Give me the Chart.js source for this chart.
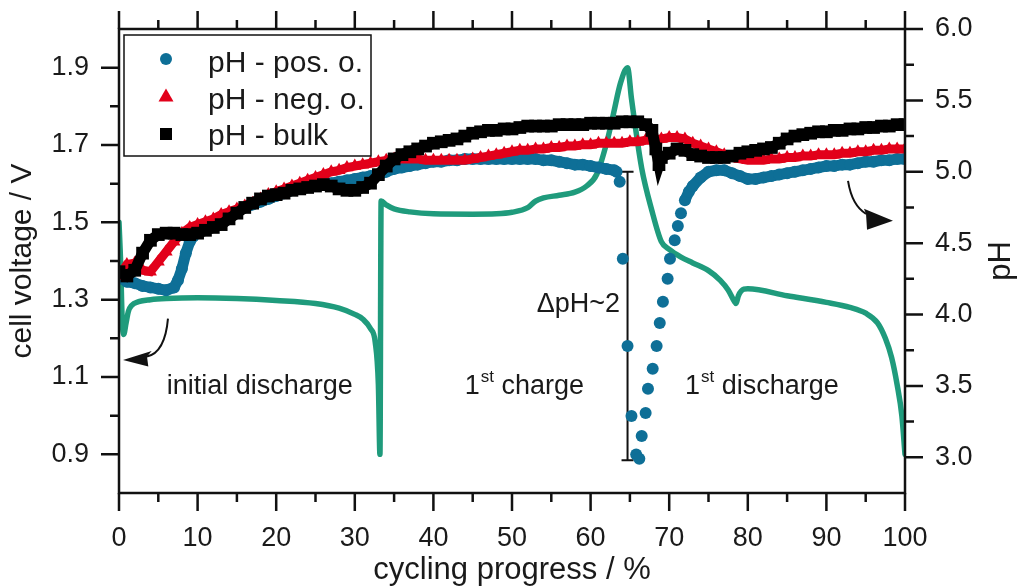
<!DOCTYPE html>
<html><head><meta charset="utf-8">
<script src="https://cdn.jsdelivr.net/npm/chart.js@4.4.0/dist/chart.umd.min.js"></script>
<style>html,body{margin:0;padding:0;background:#fff}#wrap{width:1017px;height:586px;position:relative}</style>
</head><body><div id="wrap"><canvas id="c"></canvas></div>
<script>
// ---------- data ----------
const voltX = [0,0.2,0.4,0.6,0.9,1.2,1.6,2.5,4,6,10,15,20,25,28,30,31,32,32.6,33.0,33.2,33.35,34,35,37,40,45,48,50,52,53,54,56,58,59.5,60.8,62.1,62.9,63.8,64.7,65.2,65.6,66.5,67.8,69,70,71.5,73,75,76.5,77.5,78.3,78.5,78.8,79.5,80,85,90,93,95,96.5,97.5,98.3,99,99.6,100];
const voltV = [1.50,1.40,1.25,1.21,1.24,1.27,1.285,1.295,1.300,1.303,1.305,1.303,1.298,1.29,1.278,1.262,1.250,1.225,1.19,1.08,0.90,1.555,1.545,1.535,1.527,1.522,1.521,1.522,1.526,1.538,1.555,1.563,1.570,1.578,1.594,1.625,1.71,1.78,1.86,1.90,1.82,1.76,1.64,1.53,1.45,1.43,1.41,1.395,1.375,1.35,1.325,1.295,1.29,1.31,1.327,1.328,1.310,1.293,1.280,1.265,1.24,1.20,1.15,1.08,1.00,0.90];

const posX  = [0,0.5,1,2,3,4,5,6,7,7.5,8,8.5,9,9.5,10,11,12,13,14,15,16,17,18,19,20,21,22,23,24,25,26,27,28,29,30,31,32,33,34,35,36,37,38,39,40,41,42,43,44,45,46,47,48,49,50,51,52,53,54,55,56,57,58,59,60,61,62,63,63.3,63.7,64.1,64.7,65.2,65.8,66.2,66.5,67.0,67.3,67.9,68.4,68.8,69.2,69.8,70.1,70.7,71.1,71.5,72.0,72.5,73,74,75,76,77,78,79,80,81,82,83,84,85,86,87,88,89,90,91,92,93,94,95,96,97,98,99,100];
const posPH = [4.27,4.25,4.23,4.22,4.20,4.19,4.18,4.17,4.19,4.24,4.32,4.43,4.51,4.55,4.58,4.62,4.65,4.68,4.70,4.72,4.75,4.77,4.79,4.81,4.83,4.85,4.87,4.89,4.90,4.91,4.92,4.92,4.93,4.94,4.95,4.96,4.97,4.98,5.00,5.02,5.03,5.04,5.05,5.06,5.07,5.07,5.08,5.08,5.09,5.09,5.09,5.09,5.09,5.09,5.09,5.09,5.09,5.09,5.08,5.08,5.07,5.06,5.05,5.05,5.04,5.03,5.02,5.01,5.00,4.93,4.39,3.78,3.29,3.02,2.99,3.15,3.31,3.48,3.62,3.78,3.94,4.09,4.25,4.39,4.52,4.62,4.71,4.80,4.86,4.90,4.96,5.00,5.01,5.01,4.99,4.97,4.95,4.95,4.96,4.97,4.98,4.99,5.00,5.01,5.02,5.03,5.04,5.04,5.05,5.05,5.06,5.07,5.07,5.08,5.08,5.09,5.09];

const negX  = [0,1,2,3,4,5,6,7,8,9,10,11,12,13,14,15,16,17,18,19,20,21,22,23,24,25,26,27,28,29,30,31,32,33,34,35,36,37,38,39,40,41,42,43,44,45,46,47,48,49,50,51,52,53,54,55,56,57,58,59,60,61,62,63,64,65,66,67,68,69,70,71,72,73,74,75,76,77,78,79,80,81,82,83,84,85,86,87,88,89,90,91,92,93,94,95,96,97,98,99,100];
const negPH = [4.27,4.35,4.36,4.31,4.30,4.37,4.44,4.51,4.57,4.61,4.63,4.65,4.67,4.70,4.72,4.74,4.76,4.78,4.81,4.84,4.86,4.88,4.90,4.92,4.94,4.96,4.98,5.00,5.01,5.03,5.04,5.05,5.06,5.07,5.08,5.09,5.09,5.09,5.09,5.08,5.08,5.08,5.08,5.08,5.08,5.09,5.10,5.11,5.12,5.13,5.14,5.15,5.15,5.16,5.16,5.17,5.17,5.18,5.18,5.19,5.19,5.20,5.20,5.20,5.20,5.21,5.21,5.22,5.22,5.23,5.24,5.24,5.23,5.20,5.18,5.16,5.14,5.12,5.10,5.09,5.08,5.08,5.08,5.09,5.09,5.10,5.10,5.11,5.11,5.12,5.12,5.12,5.13,5.13,5.14,5.14,5.15,5.15,5.16,5.16,5.16];

const bulkX  = [0,1,2,3,4,5,6,7,8,9,10,11,12,13,14,15,16,17,18,19,20,21,22,23,24,25,26,27,28,29,30,31,32,33,34,35,36,37,38,39,40,41,42,43,44,45,46,47,48,49,50,51,52,53,54,55,56,57,58,59,60,61,62,63,64,65,66,67,67.8,68.3,68.7,69,70,71,72,73,74,75,76,77,78,79,80,81,82,83,84,85,86,87,88,89,90,91,92,93,94,95,96,97,98,99,100];
const bulkPH = [4.30,4.27,4.31,4.43,4.52,4.56,4.57,4.57,4.56,4.56,4.57,4.59,4.61,4.63,4.67,4.71,4.75,4.78,4.81,4.83,4.84,4.85,4.87,4.88,4.89,4.90,4.91,4.90,4.88,4.87,4.87,4.89,4.92,4.98,5.04,5.09,5.12,5.14,5.16,5.18,5.20,5.21,5.22,5.23,5.25,5.27,5.28,5.29,5.29,5.30,5.30,5.31,5.32,5.32,5.32,5.32,5.33,5.33,5.33,5.33,5.34,5.34,5.34,5.34,5.35,5.35,5.35,5.33,5.29,5.16,5.05,5.10,5.13,5.16,5.15,5.12,5.11,5.10,5.10,5.10,5.11,5.13,5.14,5.15,5.16,5.17,5.20,5.23,5.25,5.26,5.27,5.28,5.28,5.29,5.29,5.30,5.30,5.31,5.31,5.32,5.32,5.33,5.33];

const xTicks = [0,10,20,30,40,50,60,70,80,90,100];
const xMinorTicks = [5,15,25,35,45,55,65,75,85,95];
const vTicks = [0.9,1.1,1.3,1.5,1.7,1.9];
const vMinorTicks = [1.0,1.2,1.4,1.6,1.8];
const phTicks = [3.0,3.5,4.0,4.5,5.0,5.5,6.0];
const phMinorTicks = [3.25,3.75,4.25,4.75,5.25,5.75];
const seriesLabels = ['pH - pos. o.','pH - neg. o.','pH - bulk'];

// ---------- styling ----------
const FONT = '"Liberation Sans", Arial, sans-serif';
const TXT = '#1a1a1a';
const TEAL = '#1f9b7c', BLUE = '#0e6f97', RED = '#e2001a', BLACK = '#000000';

const pts = (xs, ys) => xs.map((x, i) => ({x, y: ys[i]}));

const deco = {
  id: 'deco',
  beforeDatasetsDraw(chart) {
    const {ctx} = chart, x = chart.scales.x, y2 = chart.scales.y2;
    const px = x.getPixelForValue(64.7), t = y2.getPixelForValue(5.0), b = y2.getPixelForValue(2.98);
    ctx.save(); ctx.strokeStyle = '#111'; ctx.lineWidth = 2;
    ctx.beginPath();
    ctx.moveTo(px, t); ctx.lineTo(px, b);
    ctx.moveTo(px - 6, t); ctx.lineTo(px + 6, t);
    ctx.moveTo(px - 6, b); ctx.lineTo(px + 6, b);
    ctx.stroke(); ctx.restore();
  },
  afterDraw(chart) {
    const {ctx, chartArea: a} = chart, x = chart.scales.x, y = chart.scales.y, y2 = chart.scales.y2;
    ctx.save();
    // frame
    ctx.strokeStyle = '#111'; ctx.lineWidth = 2.5;
    ctx.strokeRect(a.left, a.top, a.right - a.left, a.bottom - a.top);
    // ticks
    const MAJ = 18, MIN = 9;
    ctx.beginPath();
    const hx = (v, L) => { const p = x.getPixelForValue(v); ctx.moveTo(p, a.bottom); ctx.lineTo(p, a.bottom + L); ctx.moveTo(p, a.top); ctx.lineTo(p, a.top - L); };
    xTicks.forEach(v => hx(v, MAJ)); xMinorTicks.forEach(v => hx(v, MIN));
    const hl = (v, L) => { const p = y.getPixelForValue(v); ctx.moveTo(a.left, p); ctx.lineTo(a.left - L, p); };
    vTicks.forEach(v => hl(v, MAJ)); vMinorTicks.forEach(v => hl(v, MIN));
    const hr = (v, L) => { const p = y2.getPixelForValue(v); ctx.moveTo(a.right, p); ctx.lineTo(a.right + L, p); };
    phTicks.forEach(v => hr(v, MAJ)); phMinorTicks.forEach(v => hr(v, MIN));
    ctx.stroke();

    // right axis title (reads bottom to top)
    ctx.fillStyle = TXT;
    ctx.font = '31px ' + FONT;
    ctx.save(); ctx.translate(1010, (a.top + a.bottom) / 2); ctx.rotate(-Math.PI / 2);
    ctx.textAlign = 'center'; ctx.textBaseline = 'alphabetic'; ctx.fillText('pH', 0, 0); ctx.restore();

    // legend
    const lx = a.left + 5, ly = a.top + 6, lw = 247, lh = 121;
    ctx.fillStyle = '#fff'; ctx.fillRect(lx, ly, lw, lh);
    ctx.strokeStyle = '#111'; ctx.lineWidth = 1.5; ctx.strokeRect(lx, ly, lw, lh);
    ctx.font = '30px ' + FONT; ctx.textAlign = 'left'; ctx.textBaseline = 'alphabetic';
    const mx = a.left + 47, tx = a.left + 89;
    const base = [a.top + 43, a.top + 79.5, a.top + 116];
    ctx.fillStyle = BLUE; ctx.beginPath(); ctx.arc(mx, base[0] - 13, 6, 0, Math.PI * 2); ctx.fill();
    ctx.fillStyle = RED; ctx.beginPath();
    const ty = base[1] - 12; ctx.moveTo(mx, ty - 8); ctx.lineTo(mx + 7.5, ty + 5); ctx.lineTo(mx - 7.5, ty + 5); ctx.closePath(); ctx.fill();
    ctx.fillStyle = BLACK; ctx.fillRect(mx - 6, base[2] - 11 - 6, 12, 12);
    ctx.fillStyle = TXT;
    seriesLabels.forEach((s, i) => ctx.fillText(s, tx, base[i]));

    // annotations
    const AF = '27px ' + FONT;
    ctx.font = AF;
    const baseY = y.getPixelForValue(1.055);
    ctx.textAlign = 'center';
    ctx.fillText('initial discharge', x.getPixelForValue(17.9), baseY);
    const sup = (sx, rest) => {
      ctx.textAlign = 'left';
      ctx.font = AF; ctx.fillText('1', sx, baseY);
      let w = ctx.measureText('1').width;
      ctx.font = '17px ' + FONT; ctx.fillText('st', sx + w + 1, baseY - 12);
      w += ctx.measureText('st').width + 1;
      ctx.font = AF; ctx.fillText(rest, sx + w, baseY);
    };
    sup(x.getPixelForValue(44.0), ' charge');
    sup(x.getPixelForValue(72.0), ' discharge');
    ctx.textAlign = 'right'; ctx.font = AF;
    ctx.fillText('\u0394pH~2', x.getPixelForValue(63.75), y.getPixelForValue(1.267));

    // curved arrows
    const P = (p, v) => [x.getPixelForValue(p), y.getPixelForValue(v)];
    const arrow = (s, c, e, tip, b1, b2) => {
      ctx.strokeStyle = '#111'; ctx.lineWidth = 2; ctx.fillStyle = '#111';
      ctx.beginPath(); ctx.moveTo(...P(...s)); ctx.quadraticCurveTo(...P(...c), ...P(...e)); ctx.stroke();
      ctx.beginPath(); ctx.moveTo(...P(...tip)); ctx.lineTo(...P(...b1)); ctx.lineTo(...P(...e)); ctx.lineTo(...P(...b2)); ctx.closePath(); ctx.fill();
    };
    arrow([6.23,1.251],[5.85,1.163],[3.56,1.153],[0.51,1.144],[4.16,1.167],[3.73,1.127]);
    arrow([92.75,1.607],[93.26,1.543],[95.04,1.522],[98.47,1.504],[94.78,1.535],[95.17,1.481]);
    ctx.restore();
  }
};

const fixTicks = arr => (s => { s.ticks = arr.map(v => ({value: v})); });
const tickFont = {family: FONT, size: 27};

new Chart(document.getElementById('c'), {
  type: 'scatter',
  data: {
    datasets: [
      {label: seriesLabels[2], data: pts(bulkX, bulkPH), yAxisID: 'y2', showLine: true,
       borderColor: BLACK, backgroundColor: BLACK, borderWidth: 11, pointStyle: 'rect', pointRadius: 9, pointBorderWidth: 0, order: 1},
      {label: seriesLabels[1], data: pts(negX, negPH), yAxisID: 'y2', showLine: true,
       borderColor: RED, backgroundColor: RED, borderWidth: 9, pointStyle: 'triangle', pointRadius: 7.5, pointBorderWidth: 0, order: 2},
      {label: seriesLabels[0], data: pts(posX, posPH), yAxisID: 'y2', showLine: true,
       borderColor: BLUE, backgroundColor: BLUE, borderWidth: 11, pointStyle: 'circle', pointRadius: 6, pointBorderWidth: 0, order: 3,
       segment: {borderColor: c => (c.p0.parsed.x >= 63.2 && c.p1.parsed.x <= 72.1) ? 'rgba(0,0,0,0)' : BLUE}},
      {label: 'cell voltage', data: pts(voltX, voltV), yAxisID: 'y', showLine: true,
       borderColor: TEAL, backgroundColor: TEAL, borderWidth: 5.5, pointRadius: 0, order: 4,
       cubicInterpolationMode: 'monotone', borderJoinStyle: 'round', borderCapStyle: 'round'}
    ]
  },
  options: {
    responsive: true, maintainAspectRatio: false, animation: false, devicePixelRatio: 1,
    layout: {padding: {top: 29, left: 0, right: 0, bottom: 0}},
    plugins: {legend: {display: false}, tooltip: {enabled: false}},
    events: [],
    scales: {
      x: {type: 'linear', position: 'bottom', min: 0, max: 100,
          afterBuildTicks: fixTicks(xTicks),
          ticks: {font: tickFont, color: TXT, padding: 21, maxRotation: 0, autoSkip: false, callback: v => String(v)},
          grid: {display: false}, border: {display: false},
          title: {display: true, text: 'cycling progress / %', color: TXT, font: {family: FONT, size: 31}, padding: {top: 0, bottom: -3}},
          afterFit: s => { s.height = 93; s.paddingLeft = 0; s.paddingRight = 0; }},
      y: {type: 'linear', position: 'left', min: 0.8, max: 2.0,
          afterBuildTicks: fixTicks(vTicks),
          ticks: {font: tickFont, color: TXT, padding: 22, autoSkip: false, callback: v => v.toFixed(1)},
          grid: {display: false}, border: {display: false},
          title: {display: true, text: 'cell voltage / V', color: TXT, font: {family: FONT, size: 30}, padding: {top: 5, bottom: 0}},
          afterFit: s => { s.width = 119; s.paddingTop = 0; s.paddingBottom = 0; }},
      y2: {type: 'linear', position: 'right', min: 2.75, max: 6.0,
          afterBuildTicks: fixTicks(phTicks),
          ticks: {font: tickFont, color: TXT, padding: 22, autoSkip: false, callback: v => v.toFixed(1)},
          grid: {display: false}, border: {display: false},
          title: {display: false},
          afterFit: s => { s.width = 112; s.paddingTop = 0; s.paddingBottom = 0; }}
    }
  },
  plugins: [deco]
});
</script>
</body></html>
